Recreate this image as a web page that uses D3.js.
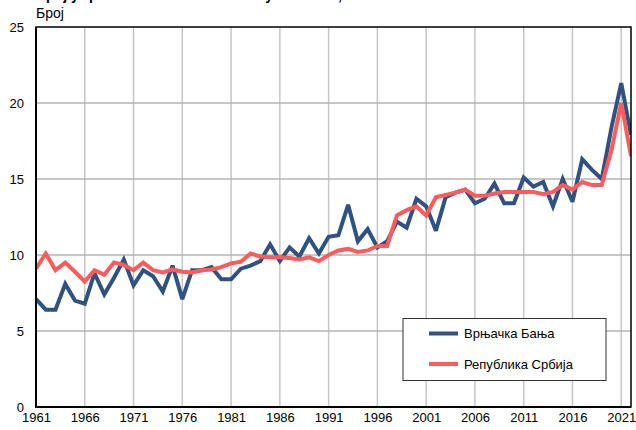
<!DOCTYPE html>
<html>
<head>
<meta charset="utf-8">
<script src="https://cdn.jsdelivr.net/npm/d3@7"></script>
<style>
  html, body { margin: 0; padding: 0; background: #fff; }
  svg { display: block; font-family: "Liberation Sans", Arial, sans-serif; }
</style>
</head>
<body>
<svg id="chart" width="636" height="430"></svg>
<script>
const years = d3.range(1961, 2023);
const xTickYears = [1961, 1966, 1971, 1976, 1981, 1986, 1991, 1996, 2001, 2006, 2011, 2016, 2021];
const yTicks = [0, 5, 10, 15, 20, 25];

const vrnjackaBanja = [
  7.1, 6.4, 6.4, 8.1, 7.0, 6.8, 8.8, 7.4, 8.5, 9.7,
  8.0, 9.0, 8.6, 7.6, 9.3, 7.1, 9.0, 9.0, 9.2, 8.4,
  8.4, 9.1, 9.3, 9.6, 10.7, 9.6, 10.5, 9.9, 11.1, 10.1,
  11.2, 11.3, 13.3, 10.9, 11.7, 10.5, 10.9, 12.2, 11.8, 13.7,
  13.2, 11.6, 13.8, 14.1, 14.3, 13.4, 13.7, 14.7, 13.4, 13.4,
  15.1, 14.5, 14.8, 13.2, 15.0, 13.5, 16.3, 15.6, 15.0, 18.4,
  21.3, 17.9
];
const republikaSrbija = [
  9.1, 10.1, 9.0, 9.5, 8.9, 8.25, 9.0, 8.7, 9.5, 9.35,
  9.0, 9.5, 9.0, 8.85, 9.05, 8.9, 8.85, 9.0, 9.05, 9.2,
  9.45, 9.55, 10.1, 9.9, 9.85, 9.85, 9.8, 9.7, 9.85, 9.6,
  10.0, 10.3, 10.4, 10.2, 10.3, 10.6, 10.6, 12.6, 12.95, 13.2,
  12.6, 13.8, 13.95, 14.1, 14.3, 13.9, 13.9, 14.05, 14.15, 14.15,
  14.15, 14.15, 14.0, 14.15, 14.6, 14.3, 14.8, 14.6, 14.6, 16.9,
  20.0, 16.5
];
const seriesNames = ["Врњачка Бања", "Република Србија"];
const seriesColors = ["#2f5281", "#ff5b5b"];
const titleText = "Број умрлих на 1000 становника у општини, 1961–2022";
const yAxisLabel = "Број";

const svg = d3.select("#chart");
const m = { left: 36, right: 5, top: 27, bottom: 23 };
const W = 636, H = 430;

const x = d3.scaleLinear().domain([1961, 2022]).range([m.left, W - m.right]);
const y = d3.scaleLinear().domain([0, 25]).range([H - m.bottom, m.top]);

// title (cut off at top as in reference)
svg.append("text")
  .attr("x", 36).attr("y", 0)
  .attr("font-size", 14).attr("font-weight", "bold")
  .attr("fill", "#000")
  .text(titleText);

// y axis label
svg.append("text")
  .attr("x", 36).attr("y", 18)
  .attr("font-size", 14).attr("fill", "#000")
  .text(yAxisLabel);

// grid
const grid = svg.append("g");
grid.selectAll("line.v").data(xTickYears).join("line")
  .attr("class", "v")
  .attr("x1", d => x(d)).attr("x2", d => x(d))
  .attr("y1", y(25)).attr("y2", y(0))
  .attr("stroke", "#c6c6c6").attr("stroke-width", 1.5);
grid.selectAll("line.h").data(yTicks.filter(d => d > 0 && d < 25)).join("line")
  .attr("class", "h")
  .attr("x1", x(1961)).attr("x2", x(2022))
  .attr("y1", d => y(d)).attr("y2", d => y(d))
  .attr("stroke", "#b4b4b4").attr("stroke-width", 1.5);

// lines
const line = d3.line().x((d, i) => x(years[i])).y(d => y(d));
const allSeries = [vrnjackaBanja, republikaSrbija];
svg.append("defs").append("clipPath").attr("id", "clip")
  .append("rect").attr("x", x(1961)).attr("y", y(25))
  .attr("width", x(2022) - x(1961)).attr("height", y(0) - y(25));
const lines = svg.append("g").attr("clip-path", "url(#clip)");
lines.selectAll("path").data(allSeries).join("path")
  .attr("d", d => line(d))
  .attr("fill", "none")
  .attr("stroke", (d, i) => seriesColors[i])
  .attr("stroke-width", 4)
  .attr("stroke-linejoin", "miter")
  .attr("stroke-miterlimit", 3);

// frame
svg.append("rect")
  .attr("x", x(1961)).attr("y", y(25))
  .attr("width", x(2022) - x(1961)).attr("height", y(0) - y(25))
  .attr("fill", "none").attr("stroke", "#000").attr("stroke-width", 1.5);
svg.append("line")
  .attr("x1", x(1961)).attr("x2", x(1961)).attr("y1", y(25)).attr("y2", y(0) + 1)
  .attr("stroke", "#000").attr("stroke-width", 2);
svg.append("line")
  .attr("x1", x(1961)).attr("x2", x(2022)).attr("y1", y(0)).attr("y2", y(0))
  .attr("stroke", "#000").attr("stroke-width", 2);

// axes
const xAxis = d3.axisBottom(x).tickValues(xTickYears).tickFormat(d3.format("d"))
  .tickSize(0).tickPadding(6);
const gx = svg.append("g").attr("transform", `translate(0,${y(0)})`).call(xAxis);
gx.select(".domain").remove();
gx.selectAll("text").attr("font-size", 13).attr("fill", "#000").attr("font-family", "Liberation Sans, Arial, sans-serif");

const yAxis = d3.axisLeft(y).tickValues(yTicks).tickSize(0).tickPadding(12);
const gy = svg.append("g").attr("transform", `translate(${x(1961)},0)`).call(yAxis);
gy.select(".domain").remove();
gy.selectAll("text").attr("font-size", 13).attr("fill", "#000").attr("font-family", "Liberation Sans, Arial, sans-serif");

// legend
const lg = svg.append("g");
lg.append("rect")
  .attr("x", 403).attr("y", 318.5).attr("width", 203).attr("height", 62)
  .attr("fill", "#fff").attr("stroke", "#333").attr("stroke-width", 1);
seriesNames.forEach((name, i) => {
  const yy = 333.5 + i * 30.5;
  lg.append("line")
    .attr("x1", 429).attr("x2", 458).attr("y1", yy).attr("y2", yy)
    .attr("stroke", seriesColors[i]).attr("stroke-width", 4);
  lg.append("text")
    .attr("x", 464).attr("y", yy).attr("dy", "0.35em")
    .attr("font-size", 13).attr("fill", "#000")
    .text(name);
});
</script>
</body>
</html>
